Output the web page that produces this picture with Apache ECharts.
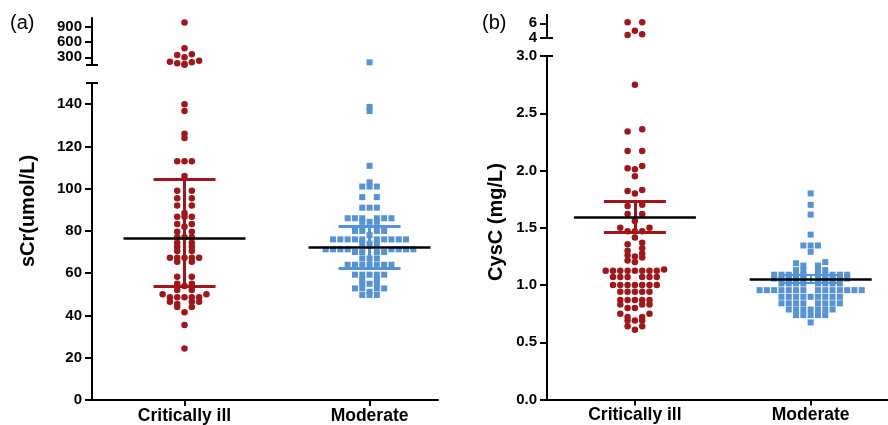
<!DOCTYPE html>
<html>
<head>
<meta charset="utf-8">
<script src="https://cdn.jsdelivr.net/npm/echarts@6/dist/echarts.min.js"></script>
<style>
  html, body { margin: 0; background: #fff; }
  #main { width: 888px; height: 425px; }
</style>
</head>
<body>
<div id="main"></div>
<script>
var FONT = 'Arial, "Liberation Sans", sans-serif';
var groups = ['Critically ill', 'Moderate'];
var RED = '#a0161b';
var BLUE = '#5592d6';

// (a) sCr, umol/L -- upper segment of the broken axis holds the large values
var sCrIllHigh = [978, 476, 359, 345, 300, 233, 214, 202, 182, 169, 155];
var sCrIll = [139.9, 136.7, 126, 124, 113, 113, 113, 106, 99, 99, 95.5, 95.5, 92, 92, 88.5,
  86.7, 86.7, 86.7, 83.3, 83.3, 82, 79.6, 79.6, 77, 77, 77, 74.4, 74.4, 72.5, 72.5, 70.5, 70.5,
  67.3, 67.3, 67.3, 67.3, 67.3, 65.4, 65.4, 58.3, 58.3, 55, 55, 54, 52, 52, 50, 50,
  48.6, 48.6, 48.6, 48.6, 48.6, 46.5, 46.5, 46.5, 45.4, 44, 44, 41.5, 35.5, 24.4];
var sCrModHigh = [202];
var sCrMod = [138.7, 136.7, 110.8, 103, 101, 101, 101, 96, 96, 91, 91, 91,
  86, 86, 86, 86, 86, 86, 84.3, 84.3, 84.3, 80, 80, 80, 80, 78,
  76, 76, 76, 76, 76, 76, 76, 76, 76, 76, 74, 74, 74,
  71.3, 71.3, 71.3, 71.3, 71.3, 71.3, 71.3, 71.3, 70, 70, 70, 70, 67, 67, 67,
  64, 64, 64, 64, 64, 64, 64, 59.3, 59.3, 59.3, 59.3, 59.3, 57, 57, 55, 55, 55,
  52.8, 52.8, 52.8, 52.8, 51.2, 49.7, 49.7, 49.7];
var sCrMean = [76.6, 72.5];
var sCrLow = [53.6, 62.3];
var sCrHigh = [104.3, 82.3];
var sCrTicksHigh = [300, 600, 900];
var sCrTicks = [0, 20, 40, 60, 80, 100, 120, 140];

// (b) CysC, mg/L
var cysIllHigh = [6.14, 6.14, 4.97, 4.47, 4.36];
var cysIll = [2.75, 2.36, 2.34, 2.17, 2.17, 2.04, 2.02, 2.01, 1.95, 1.83, 1.82, 1.80,
  1.70, 1.69, 1.62, 1.62, 1.56, 1.50, 1.50, 1.47, 1.47, 1.47, 1.415, 1.37, 1.355,
  1.32, 1.30, 1.275, 1.26, 1.25, 1.24, 1.215, 1.20, 1.135,
  1.125, 1.125, 1.125, 1.125, 1.125, 1.125, 1.125, 1.125,
  1.07, 1.07, 1.07, 1.07, 1.07, 1.07, 1.0, 1.0, 1.0, 1.0, 1.0, 1.0, 1.0,
  0.94, 0.94, 0.94, 0.94, 0.94, 0.87, 0.87, 0.87, 0.87, 0.87, 0.83, 0.83, 0.83,
  0.80, 0.80, 0.75, 0.75, 0.72, 0.72, 0.69, 0.69, 0.69, 0.64, 0.64, 0.61];
var cysModHigh = [];
var cysMod = [1.80, 1.70, 1.615, 1.44, 1.345, 1.345, 1.345, 1.29, 1.20, 1.19, 1.17, 1.17,
  1.13, 1.13, 1.13, 1.13,
  1.09, 1.09, 1.09, 1.09, 1.09, 1.09, 1.09, 1.09, 1.09, 1.09,
  1.056, 1.056, 1.056, 1.056, 1.056, 1.056, 1.056, 1.056, 1.056, 1.056,
  1.013, 1.013, 1.013, 1.013, 1.013, 1.013, 1.013, 1.013,
  0.955, 0.955, 0.955, 0.955, 0.955, 0.955, 0.955, 0.955, 0.955, 0.955, 0.955, 0.955, 0.955, 0.955,
  0.897, 0.897, 0.897, 0.897, 0.897, 0.897, 0.897, 0.897, 0.897,
  0.84, 0.84, 0.84, 0.84, 0.84, 0.84, 0.84, 0.84,
  0.786, 0.786, 0.786, 0.786, 0.786, 0.786, 0.786, 0.737, 0.737, 0.737, 0.737, 0.737, 0.673];
var cysMean = [1.595, 1.048];
var cysLow = [1.465, 1.02];
var cysHigh = [1.73, 1.09];
var cysTicksHigh = [6];
var cysTicksBreak = [4];
var cysTicks = [0, 0.5, 1, 1.5, 2, 2.5, 3];

// grids: 0 = (a) upper, 1 = (a) lower, 2 = (b) upper, 3 = (b) lower
var grids = [
  {left: 92, top: 18, width: 346, height: 47},
  {left: 92, top: 83, width: 346, height: 317},
  {left: 547, top: 15, width: 341, height: 22.7},
  {left: 547, top: 56, width: 341, height: 343.5}
];
var yRange = [[150, 1065], [0, 150], [4, 7.15], [0, 3]];
var xRange = [[-0.5, 1.37], [-0.5, 1.37], [-0.5, 1.44], [-0.5, 1.44]];

function pxX(i) { return grids[i].width / (xRange[i][1] - xRange[i][0]); }
function pxY(i) { return grids[i].height / (yRange[i][1] - yRange[i][0]); }

// GraphPad style scatter: near-equal values share a row, spread sideways
function swarm(vals, gi, i) {
  var step = 7.3 / pxX(i), rowPx = 3.5, py = pxY(i);
  var sorted = vals.slice().sort(function (a, b) { return b - a; });
  var rows = [], cur = null;
  sorted.forEach(function (v) {
    if (!cur || (cur[0] - v) * py > rowPx) { cur = []; rows.push(cur); }
    cur.push(v);
  });
  var out = [];
  rows.forEach(function (r) {
    var n = r.length;
    r.slice().reverse().forEach(function (v, j) {
      var slot;
      if (n % 2) slot = j === 0 ? 0 : (j % 2 ? -(j + 1) / 2 : j / 2);
      else slot = j % 2 ? (j + 1) / 2 : -(j / 2 + 1);
      out.push([gi + slot * step, v]);
    });
  });
  return out;
}

function dots(vals, gi, i, color, symbol, size) {
  return {
    type: 'scatter', xAxisIndex: i, yAxisIndex: i, data: swarm(vals, gi, i),
    symbol: symbol, symbolSize: size, itemStyle: {color: color, opacity: 1}, z: 2, silent: true
  };
}

function cap(i, yVal) {
  var c = 6 / pxX(i), x0 = xRange[i][0];
  return {
    type: 'lines', coordinateSystem: 'cartesian2d', xAxisIndex: i, yAxisIndex: i,
    clip: false, silent: true, z: 6, polyline: false,
    lineStyle: {color: '#000', width: 2, opacity: 1},
    data: [{coords: [[x0 - c, yVal], [x0 + c, yVal]]}]
  };
}

function summary(i, means, lows, highs, colors, widths) {
  var px = pxX(i), mw = 61 / px, cw = 31 / px;
  var bars = [], mean = [];
  groups.forEach(function (g, k) {
    var ls = {color: colors[k], width: widths[k], opacity: 1};
    bars.push({coords: [[k, lows[k]], [k, highs[k]]], lineStyle: ls});
    bars.push({coords: [[k - cw, lows[k]], [k + cw, lows[k]]], lineStyle: ls});
    bars.push({coords: [[k - cw, highs[k]], [k + cw, highs[k]]], lineStyle: ls});
    mean.push({coords: [[k - mw, means[k]], [k + mw, means[k]]]});
  });
  return [
    {type: 'lines', coordinateSystem: 'cartesian2d', xAxisIndex: i, yAxisIndex: i, clip: false,
      silent: true, z: 3, data: bars, lineStyle: {opacity: 1}},
    {type: 'lines', coordinateSystem: 'cartesian2d', xAxisIndex: i, yAxisIndex: i, clip: false,
      silent: true, z: 4, data: mean, lineStyle: {color: '#000', width: 2.5, opacity: 1}}
  ];
}

function yAx(i, ticks, fmt) {
  return {
    gridIndex: i, type: 'value', min: yRange[i][0], max: yRange[i][1], position: 'left', offset: 0,
    axisLine: {show: true, onZero: false, lineStyle: {color: '#000', width: 2}},
    axisTick: {show: true, customValues: ticks, length: 7, lineStyle: {color: '#000', width: 2}},
    axisLabel: {customValues: ticks, formatter: fmt, color: '#000', fontSize: 15, lineHeight: 12,
      fontWeight: 'bold', fontFamily: FONT, margin: 10, showMinLabel: true, showMaxLabel: true,
      hideOverlap: false},
    splitLine: {show: false}
  };
}

function xAx(i, show) {
  var pos = groups.map(function (g, k) { return k; });
  return {
    gridIndex: i, type: 'value', min: xRange[i][0], max: xRange[i][1], show: show,
    axisLine: {show: true, onZero: false, lineStyle: {color: '#000', width: 2}},
    axisTick: {show: true, customValues: pos, length: 6, lineStyle: {color: '#000', width: 2}},
    axisLabel: {customValues: pos, formatter: function (v) { return groups[Math.round(v)]; },
      color: '#000', fontSize: 17.5, fontWeight: 'bold', fontFamily: FONT, margin: 7},
    splitLine: {show: false}
  };
}

function plain(v) { return String(v); }
function oneDec(v) { return v.toFixed(1); }

var series = [
  dots(sCrIllHigh, 0, 0, RED, 'circle', 6.5),
  dots(sCrModHigh, 1, 0, BLUE, 'rect', 6),
  dots(sCrIll, 0, 1, RED, 'circle', 6.5),
  dots(sCrMod, 1, 1, BLUE, 'rect', 6),
  dots(cysIllHigh, 0, 2, RED, 'circle', 6.5),
  dots(cysModHigh, 1, 2, BLUE, 'rect', 6),
  dots(cysIll, 0, 3, RED, 'circle', 6.5),
  dots(cysMod, 1, 3, BLUE, 'rect', 6),
  cap(0, yRange[0][0]), cap(1, yRange[1][1]),
  cap(2, yRange[2][0]), cap(3, yRange[3][1])
].concat(
  summary(1, sCrMean, sCrLow, sCrHigh, [RED, BLUE], [3, 3]),
  summary(3, cysMean, cysLow, cysHigh, [RED, BLUE], [3, 2])
);

var chart = echarts.init(document.getElementById('main'));
chart.setOption({
  animation: false,
  backgroundColor: '#fff',
  grid: grids,
  xAxis: [xAx(0, false), xAx(1, true), xAx(2, false), xAx(3, true)],
  yAxis: [yAx(0, sCrTicksHigh, plain), yAx(1, sCrTicks, plain),
          yAx(2, cysTicksHigh, plain), yAx(3, cysTicks, oneDec),
          yAx(2, cysTicksBreak, plain)],
  graphic: [
    {type: 'text', x: 10, y: 13, style: {text: '(a)', fill: '#000', font: '20px ' + FONT}},
    {type: 'text', x: 482, y: 13, style: {text: '(b)', fill: '#000', font: '20px ' + FONT}},
    {type: 'text', x: 28, y: 211, rotation: Math.PI / 2,
      style: {text: 'sCr(umol/L)', fill: '#000', font: 'bold 20px ' + FONT,
        textAlign: 'center', textVerticalAlign: 'middle', align: 'center', verticalAlign: 'middle'}},
    {type: 'text', x: 496, y: 222, rotation: Math.PI / 2,
      style: {text: 'CysC (mg/L)', fill: '#000', font: 'bold 20px ' + FONT,
        textAlign: 'center', textVerticalAlign: 'middle', align: 'center', verticalAlign: 'middle'}}
  ],
  series: series
});
</script>
</body>
</html>
